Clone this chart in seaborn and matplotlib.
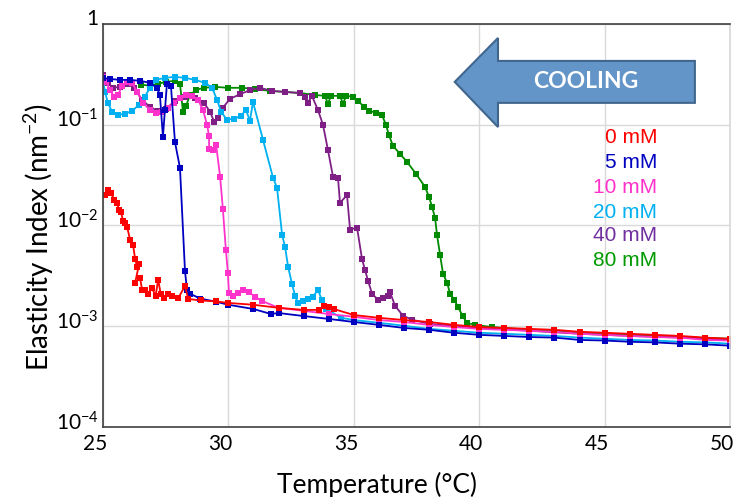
import numpy as np
import pandas as pd
import seaborn as sns
import matplotlib.pyplot as plt
import matplotlib.transforms as mtransforms
from matplotlib.patches import Polygon

# Data (temperature in degC, elasticity index in nm^-2)
temp_0mM = [25.08, 25.2, 25.32, 25.44, 25.56, 25.64, 25.72, 25.8, 25.88, 25.96,
            26.08, 26.2, 26.28, 26.36, 26.44, 26.28, 26.48, 26.56, 26.67, 26.8,
            26.95, 27.1, 27.2, 27.3, 27.45, 27.6, 27.75, 28.0, 28.27, 28.4,
            28.9, 29.5, 30, 31, 32, 33, 33.6, 33.8, 34.0, 34.2, 35, 36, 37,
            38, 39, 40, 41, 42, 43, 44, 45, 46, 47, 48, 49, 50]
ei_0mM = [0.020, 0.0225, 0.021, 0.018, 0.0167, 0.0143, 0.0136, 0.011, 0.0105, 0.0097,
          0.0072, 0.0064, 0.00465, 0.00388, 0.0041, 0.0027, 0.0030, 0.00228, 0.0023, 0.0021,
          0.0024, 0.0020, 0.0029, 0.0021, 0.0019, 0.0021, 0.0020, 0.0019, 0.0025, 0.00186,
          0.0018, 0.00176, 0.0017, 0.00163, 0.00152, 0.00145, 0.00145, 0.00159, 0.00155, 0.00148,
          0.00129, 0.00121, 0.00115, 0.0011, 0.00103, 0.00098, 0.00096, 0.00094, 0.00092,
          0.00088, 0.00086, 0.00084, 0.00082, 0.0008, 0.00077, 0.00075]

temp_5mM = [25.0, 25.28, 25.68, 26.08, 26.48, 26.87, 27.15, 27.27, 27.39, 27.47,
            27.55, 27.71, 27.87, 28.07, 28.27, 28.35, 28.47, 28.87, 29.5, 30, 31,
            31.7, 32, 33, 34, 35, 36, 37, 38, 39, 40, 41, 42, 43, 44, 45, 46, 47,
            48, 49, 50]
ei_5mM = [0.291, 0.284, 0.278, 0.278, 0.272, 0.26, 0.232, 0.197, 0.0755, 0.14,
          0.254, 0.242, 0.067, 0.0372, 0.0035, 0.0023, 0.0021, 0.00188, 0.00175, 0.00163,
          0.00148, 0.00132, 0.00135, 0.00126, 0.00118, 0.0011, 0.00103, 0.00096, 0.00092,
          0.00086, 0.00082, 0.0008, 0.00078, 0.00077, 0.00073, 0.00072, 0.0007, 0.00069,
          0.00067, 0.00066, 0.00064]

temp_10mM = [25.0, 25.12, 25.28, 25.44, 25.6, 25.76, 25.96, 26.16, 26.36, 26.6,
             26.87, 27.11, 27.35, 27.59, 27.83, 28.07, 28.31, 28.55, 28.79, 28.99,
             29.15, 29.23, 29.23, 29.39, 29.51, 29.67, 29.78, 29.9, 29.98, 30.02,
             30.18, 30.38, 30.58, 30.82, 31.06, 31.34, 32, 33, 34, 35, 36, 37, 38,
             39, 40, 41, 42, 43, 44, 45, 46, 47, 48, 49, 50]
ei_10mM = [0.298, 0.266, 0.221, 0.189, 0.197, 0.242, 0.266, 0.26, 0.211, 0.164,
           0.14, 0.131, 0.134, 0.147, 0.164, 0.184, 0.197, 0.193, 0.176, 0.14,
           0.099, 0.0774, 0.0577, 0.056, 0.063, 0.0305, 0.0146, 0.0057, 0.0034, 0.00215,
           0.0020, 0.00215, 0.00228, 0.00218, 0.00196, 0.00178, 0.00152, 0.00142, 0.00132,
           0.00124, 0.00115, 0.0011, 0.00103, 0.00098, 0.00094, 0.00092, 0.0009, 0.00088,
           0.00084, 0.00082, 0.0008, 0.00078, 0.00077, 0.00073, 0.00072]

temp_20mM = [25.0, 25.08, 25.2, 25.36, 25.6, 25.88, 26.16, 26.44, 26.67, 26.87,
             27.11, 27.47, 27.87, 28.27, 28.67, 29.07, 29.35, 29.55, 29.71, 29.94,
             30.22, 30.5, 30.7, 30.86, 30.98, 31.38, 31.78, 31.94, 32.14, 32.26,
             32.38, 32.54, 32.66, 32.78, 32.97, 33.17, 33.37, 33.57, 33.73, 33.89,
             34.5, 35, 36, 37, 38, 39, 40, 41, 42, 43, 44, 45, 46, 47, 48, 49, 50]
ei_20mM = [0.278, 0.211, 0.164, 0.134, 0.125, 0.128, 0.137, 0.157, 0.189, 0.232,
           0.278, 0.291, 0.298, 0.291, 0.278, 0.26, 0.232, 0.176, 0.134, 0.112,
           0.114, 0.122, 0.14, 0.109, 0.168, 0.0707, 0.0297, 0.0236, 0.0081, 0.0061,
           0.0039, 0.0026, 0.0020, 0.00168, 0.00177, 0.00187, 0.00196, 0.00229, 0.00182,
           0.00149, 0.00121, 0.00115, 0.00108, 0.00101, 0.00094, 0.0009, 0.00086, 0.00084,
           0.00082, 0.0008, 0.00077, 0.00075, 0.00073, 0.00072, 0.0007, 0.00069, 0.00067]

temp_40mM = [25.0, 25.2, 25.4, 25.68, 25.96, 26.24, 26.56, 26.87, 27.19, 27.51,
             27.87, 28.27, 28.67, 29.03, 29.27, 29.43, 29.59, 29.78, 30.06, 30.46,
             30.86, 31.26, 31.74, 32.26, 32.85, 33.05, 33.17, 33.33, 33.57, 33.77,
             33.97, 34.17, 34.37, 34.45, 34.73, 34.85, 35.13, 35.33, 35.45, 35.57,
             35.73, 35.96, 36.16, 36.36, 36.44, 36.64, 36.96, 37.32, 38.04, 40, 42,
             44, 46, 48, 50]
ei_40mM = [0.312, 0.26, 0.232, 0.237, 0.254, 0.232, 0.176, 0.15, 0.137, 0.143,
           0.172, 0.189, 0.184, 0.164, 0.134, 0.107, 0.117, 0.147, 0.18, 0.2,
           0.22, 0.232, 0.216, 0.211, 0.206, 0.189, 0.164, 0.193, 0.14, 0.1,
           0.056, 0.0305, 0.0297, 0.0167, 0.02, 0.0091, 0.0095, 0.0046, 0.0036, 0.0028,
           0.0021, 0.00183, 0.00191, 0.0020, 0.0022, 0.0016, 0.00127, 0.00116, 0.00105,
           0.00096, 0.0009, 0.00084, 0.0008, 0.00077, 0.00073]

temp_80mM = [26.5, 26.87, 27.19, 27.51, 27.87, 28.07, 28.19, 28.31, 28.47, 28.71,
             29.03, 29.47, 29.98, 30.54, 31.06, 31.66, 32.26, 32.85, 33.45, 33.85,
             33.97, 34.09, 34.45, 34.57, 34.69, 34.97, 35.17, 35.41, 35.61, 35.89,
             36.12, 36.28, 36.4, 36.56, 36.84, 37.12, 37.48, 37.84, 38.0, 38.12,
             38.24, 38.32, 38.44, 38.56, 38.72, 38.84, 39.0, 39.15, 39.35, 39.51,
             39.83, 40.5, 42, 44, 46, 48, 50]
ei_80mM = [0.25, 0.243, 0.254, 0.266, 0.272, 0.254, 0.134, 0.153, 0.197, 0.221,
           0.232, 0.237, 0.232, 0.232, 0.226, 0.216, 0.211, 0.206, 0.197, 0.193,
           0.161, 0.193, 0.193, 0.161, 0.193, 0.189, 0.172, 0.15, 0.137, 0.131,
           0.125, 0.1, 0.079, 0.0617, 0.0513, 0.0428, 0.0325, 0.0241, 0.0192, 0.0153,
           0.0119, 0.008, 0.0051, 0.0033, 0.0027, 0.0021, 0.00183, 0.00156, 0.00125,
           0.00108, 0.00103, 0.00098, 0.00092, 0.00086, 0.00082, 0.00078, 0.00075]

labels = ["0 mM", "5 mM", "10 mM", "20 mM", "40 mM", "80 mM"]
colors = ["#FF0000", "#0000C0", "#FF33CC", "#00B0F0", "#7F1F86", "#008A00"]
label_colors = ["#FF0000", "#0000C0", "#FF33CC", "#00B0F0", "#7030A0", "#009A00"]

series = {
    "0 mM": (temp_0mM, ei_0mM),
    "5 mM": (temp_5mM, ei_5mM),
    "10 mM": (temp_10mM, ei_10mM),
    "20 mM": (temp_20mM, ei_20mM),
    "40 mM": (temp_40mM, ei_40mM),
    "80 mM": (temp_80mM, ei_80mM),
}
frames = []
for name, (t, e) in series.items():
    frames.append(pd.DataFrame({"temp": t, "ei": e, "conc": name}))
df = pd.concat(frames, ignore_index=True)

sns.set_theme(style="whitegrid")
plt.rcParams['font.family'] = ['Lato', 'DejaVu Sans']
plt.rcParams['mathtext.fontset'] = 'custom'
plt.rcParams['mathtext.rm'] = 'Lato'
plt.rcParams['mathtext.it'] = 'Lato'

fig = plt.figure(figsize=(7.33, 4.97), dpi=100)
ax = fig.add_axes([0.1405, 0.141, 0.8554, 0.811])
ax.set_facecolor("white")

# later series drawn first so 0 mM ends up on top (as in the original)
order = labels[::-1]
palette = dict(zip(labels, colors))
sns.lineplot(data=df, x="temp", y="ei", hue="conc", hue_order=order, palette=palette,
             sort=False, estimator=None, marker="s", markersize=4, markeredgewidth=0,
             linewidth=1.3, legend=False, ax=ax)

ax.set_yscale("log")
ax.set_xlim(25, 50)
ax.set_ylim(1e-4, 1)
ax.set_xticks([25, 30, 35, 40, 45, 50])
ax.set_yticks([1e-4, 1e-3, 1e-2, 1e-1, 1])
ax.set_yticklabels([r"$10^{-4}$", r"$10^{-3}$", r"$10^{-2}$", r"$10^{-1}$", "1"])
ax.minorticks_off()
ax.tick_params(axis="both", length=0, labelsize=15, colors="black", pad=3)
ax.grid(True, color="#D9D9D9", linewidth=1)
for side in ["left", "bottom", "top"]:
    ax.spines[side].set_color("#404040")
    ax.spines[side].set_linewidth(1.2)
ax.spines["right"].set_color("#D9D9D9")

# nudge tick labels like the original (x labels a bit left/down, y labels up)
x_off = mtransforms.ScaledTranslation(-0.08, -0.03, fig.dpi_scale_trans)
for lab in ax.get_xticklabels():
    lab.set_transform(lab.get_transform() + x_off)
y_off = mtransforms.ScaledTranslation(0, 0.065, fig.dpi_scale_trans)
for lab in ax.get_yticklabels():
    lab.set_transform(lab.get_transform() + y_off)

ax.set_xlabel("Temperature (°C)", fontsize=19, color="black")
ax.set_ylabel(r"Elasticity Index (nm$^{-2}$)", fontsize=20, color="black")
ax.xaxis.set_label_coords(0.437, -0.145)
ax.xaxis.label.set_va("center")
ax.yaxis.set_label_coords(-0.102, 0.47)
ax.yaxis.label.set_va("center")

# COOLING arrow (axes fraction)
arrow_pts = [(0.561, 0.856), (0.630, 0.965), (0.630, 0.908), (0.944, 0.908),
             (0.944, 0.804), (0.630, 0.804), (0.630, 0.744)]
ax.add_patch(Polygon(arrow_pts, closed=True, transform=ax.transAxes,
                     facecolor="#6495C8", edgecolor="#41668E", linewidth=1.5, zorder=5))
ax.text(0.77, 0.856, "COOLING", transform=ax.transAxes, ha="center", va="center",
        fontsize=16.5, fontweight="bold", color="white", zorder=6)

# coloured labels in place of a legend
label_y = [0.717, 0.655, 0.593, 0.533, 0.476, 0.414]
for name, col, yy in zip(labels, label_colors, label_y):
    ax.text(0.884, yy, name, transform=ax.transAxes, ha="right", va="center",
            fontsize=15, color=col, family=["Liberation Sans", "DejaVu Sans"], zorder=6)

fig.savefig("out.png", dpi=100)
